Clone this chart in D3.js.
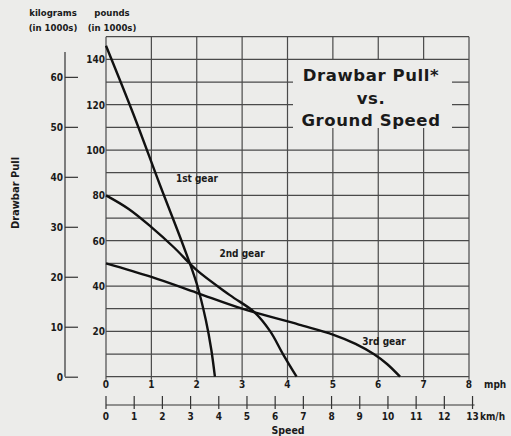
<!DOCTYPE html>
<html>
<head>
<meta charset="utf-8">
<script src="https://cdn.jsdelivr.net/npm/d3@7"></script>
<style>
  html, body { margin: 0; padding: 0; background: #ececea; }
  svg { display: block; }
  text { font-family: "DejaVu Sans Condensed", "DejaVu Sans", sans-serif; font-weight: bold; fill: #1a1a1a; }
</style>
</head>
<body>
<svg id="chart" width="511" height="436"></svg>
<script>
// speed in mph, pull in 1000s of pounds
var firstGear = [[0, 146], [0.6, 116], [1.2, 84], [1.7, 58], [2.0, 41], [2.2, 25], [2.32, 12], [2.4, 0]];
var secondGear = [[0, 80], [0.5, 74], [1.0, 66], [1.5, 57], [2.0, 47], [2.73, 36], [3.28, 28.3], [3.62, 20], [3.9, 10], [4.2, 0]];
var thirdGear = [[0, 50], [1.0, 44], [2.0, 37], [3.0, 30], [4.25, 23], [5.0, 18.6], [5.5, 14.5], [5.9, 10], [6.2, 5.5], [6.48, 0]];
var gearLabels = ['1st gear', '2nd gear', '3rd gear'];

var mphTicks = [0, 1, 2, 3, 4, 5, 6, 7, 8];
var kmhTicks = [0, 1, 2, 3, 4, 5, 6, 7, 8, 9, 10, 11, 12, 13];
var poundTicks = [20, 40, 60, 80, 100, 120, 140];
var poundGrid = d3.range(0, 151, 10);
var kgTicks = [0, 10, 20, 30, 40, 50, 60];
var titleLines = ['Drawbar Pull*', 'vs.', 'Ground Speed'];

var svg = d3.select('#chart');

var x = d3.scaleLinear().domain([0, 8]).range([106, 469]);
var xKm = d3.scaleLinear().domain([0, 8 * 1.609344]).range([106, 469]);
var y = d3.scaleLinear().domain([0, 150]).range([376.7, 36.7]);
var yKg = d3.scaleLinear().domain([0, 150 / 2.20462]).range([376.7, 36.7]);

// grid
var grid = svg.append('g').attr('stroke', '#4a4a4a').attr('stroke-width', 1.2);
grid.selectAll('line.h')
    .data(poundGrid)
    .enter().append('line')
    .attr('class', 'h')
    .attr('x1', x(0)).attr('x2', x(8))
    .attr('y1', d => y(d)).attr('y2', d => y(d));
grid.selectAll('line.v')
    .data(mphTicks)
    .enter().append('line')
    .attr('class', 'v')
    .attr('x1', d => x(d)).attr('x2', d => x(d))
    .attr('y1', y(150)).attr('y2', y(0) + 3);

// title box hides the grid
svg.append('rect')
    .attr('x', 293).attr('y', 60)
    .attr('width', 159).attr('height', 68)
    .attr('fill', '#ececea');

svg.append('g').selectAll('text')
    .data(titleLines)
    .enter().append('text')
    .attr('x', 371)
    .attr('y', (d, i) => 81 + i * 22.5)
    .attr('text-anchor', 'middle')
    .style('font-family', '"DejaVu Sans", sans-serif')
    .style('font-size', '16.5px')
    .style('letter-spacing', '0.6px')
    .text(d => d);

// pounds labels
svg.append('g').selectAll('text')
    .data(poundTicks)
    .enter().append('text')
    .attr('x', 105)
    .attr('y', d => y(d) + 4)
    .attr('text-anchor', 'end')
    .style('font-size', '10px')
    .text(d => d);

// kilograms axis
var kgAxis = d3.axisRight(yKg).tickValues(kgTicks).tickSize(13).tickFormat('');
var kg = svg.append('g').attr('transform', 'translate(65,0)').call(kgAxis);
kg.select('.domain').remove();
kg.selectAll('.tick line').attr('stroke', '#333').attr('stroke-width', 1.2);
svg.append('line')
    .attr('x1', 65).attr('x2', 65)
    .attr('y1', 52).attr('y2', yKg(0))
    .attr('stroke', '#333').attr('stroke-width', 1.2);
svg.append('g').selectAll('text')
    .data(kgTicks)
    .enter().append('text')
    .attr('x', 63)
    .attr('y', d => yKg(d) + 4)
    .attr('text-anchor', 'end')
    .style('font-size', '10px')
    .text(d => d);

// mph labels
svg.append('g').selectAll('text')
    .data(mphTicks)
    .enter().append('text')
    .attr('x', d => x(d))
    .attr('y', 388)
    .attr('text-anchor', 'middle')
    .style('font-size', '10px')
    .text(d => d);
svg.append('text').attr('x', 484).attr('y', 388).style('font-size', '10px').text('mph');

// km/h axis
var kmAxis = d3.axisBottom(xKm).tickValues(kmhTicks).tickSize(0).tickFormat('');
var km = svg.append('g').attr('transform', 'translate(0,405)').call(kmAxis);
km.select('.domain').attr('stroke', '#333').attr('stroke-width', 1.2)
    .attr('d', 'M' + xKm(0) + ',0H' + (xKm(13) + 2));
svg.append('g').selectAll('line')
    .data(kmhTicks)
    .enter().append('line')
    .attr('x1', d => xKm(d)).attr('x2', d => xKm(d))
    .attr('y1', 396).attr('y2', 409)
    .attr('stroke', '#333').attr('stroke-width', 1.2);
svg.append('g').selectAll('text')
    .data(kmhTicks)
    .enter().append('text')
    .attr('x', d => xKm(d))
    .attr('y', 420)
    .attr('text-anchor', 'middle')
    .style('font-size', '10px')
    .text(d => d);
svg.append('text').attr('x', 480).attr('y', 420).style('font-size', '10px').text('km/h');

// axis titles
svg.append('text').attr('x', 53).attr('y', 16).attr('text-anchor', 'middle').style('font-size', '9.5px').text('kilograms');
svg.append('text').attr('x', 53).attr('y', 31).attr('text-anchor', 'middle').style('font-size', '9.5px').text('(in 1000s)');
svg.append('text').attr('x', 112).attr('y', 16).attr('text-anchor', 'middle').style('font-size', '9.5px').text('pounds');
svg.append('text').attr('x', 112).attr('y', 31).attr('text-anchor', 'middle').style('font-size', '9.5px').text('(in 1000s)');
svg.append('text')
    .attr('transform', 'translate(19,193) rotate(-90)')
    .attr('text-anchor', 'middle')
    .style('font-size', '11px')
    .text('Drawbar Pull');
svg.append('text').attr('x', 288).attr('y', 434).attr('text-anchor', 'middle').style('font-size', '10.5px').text('Speed');

// gear curves
var line = d3.line()
    .x(d => x(d[0]))
    .y(d => y(d[1]))
    .curve(d3.curveCatmullRom.alpha(0.5));

svg.append('g').selectAll('path')
    .data([firstGear, secondGear, thirdGear])
    .enter().append('path')
    .attr('d', line)
    .attr('fill', 'none')
    .attr('stroke', '#111')
    .attr('stroke-width', 2.4);

// gear labels
var labelPos = [[1.54, 86], [2.5, 53], [5.65, 14]];
svg.append('g').selectAll('text')
    .data(gearLabels)
    .enter().append('text')
    .attr('x', (d, i) => x(labelPos[i][0]))
    .attr('y', (d, i) => y(labelPos[i][1]))
    .style('font-size', '10px')
    .text(d => d);
</script>
</body>
</html>
